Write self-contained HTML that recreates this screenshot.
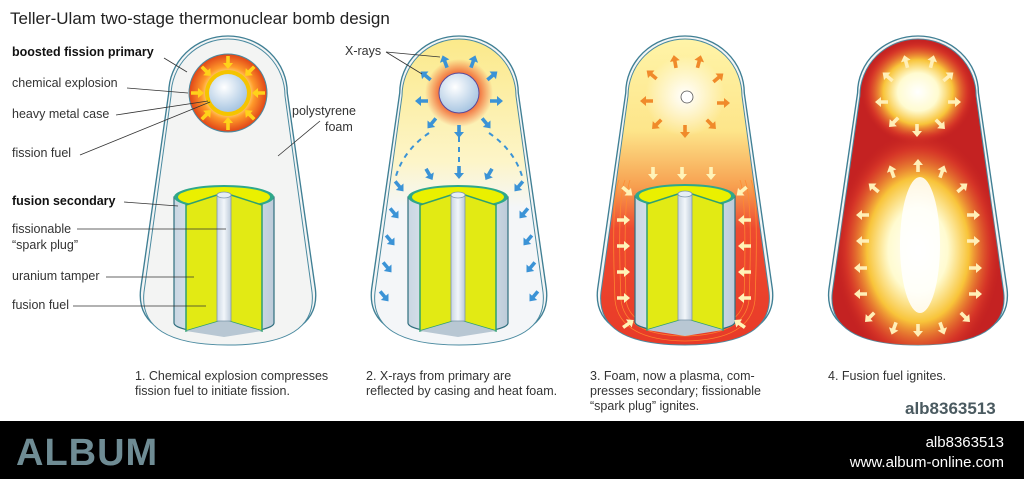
<!DOCTYPE html>
<html><head><meta charset="utf-8"><style>
html,body{margin:0;padding:0;background:#fff}
body{width:1024px;height:479px;overflow:hidden;position:relative;font-family:"Liberation Sans",sans-serif}
svg{position:absolute;left:0;top:0}
</style></head><body>
<svg width="1024" height="479" viewBox="0 0 1024 479" xmlns="http://www.w3.org/2000/svg" font-family="Liberation Sans, sans-serif">
<defs>
<path id="cap" d="M-57,96 A57,57 0 0 1 57,96 L84,292 Q90,345 0,345 Q-90,345 -84,292 Z"/>
<clipPath id="capclip"><path d="M-58,96 A58,58 0 0 1 58,96 L86,292 Q92,345 0,345 Q-92,345 -86,292 Z"/></clipPath>
<polygon id="ar" points="-6,-1.8 1,-1.8 1,-5 7,0 1,5 1,1.8 -6,1.8"/>
<radialGradient id="prim" cx="50%" cy="50%" r="50%"><stop offset="0.45" stop-color="#fff3a0"/><stop offset="0.68" stop-color="#ff9a2a"/><stop offset="1" stop-color="#e04418"/></radialGradient>
<radialGradient id="ball" cx="40%" cy="35%" r="65%"><stop offset="0" stop-color="#ffffff"/><stop offset="1" stop-color="#a9c6e2"/></radialGradient>
<radialGradient id="glow2" cx="50%" cy="50%" r="50%"><stop offset="0.5" stop-color="#f05a28"/><stop offset="1" stop-color="#f05a28" stop-opacity="0"/></radialGradient>
<linearGradient id="c2" x1="0" y1="0" x2="0" y2="1"><stop offset="0" stop-color="#fbe98a"/><stop offset="0.4" stop-color="#fdf5c8"/><stop offset="0.55" stop-color="#f4f6f8"/><stop offset="1" stop-color="#f4f6f8"/></linearGradient>
<linearGradient id="c3" x1="0" y1="0" x2="0" y2="1"><stop offset="0" stop-color="#fff4a8"/><stop offset="0.3" stop-color="#fde58a"/><stop offset="0.48" stop-color="#f7a050"/><stop offset="0.62" stop-color="#ee4a30"/><stop offset="1" stop-color="#e83a28"/></linearGradient>
<radialGradient id="w3" cx="50%" cy="50%" r="50%"><stop offset="0" stop-color="#fff"/><stop offset="1" stop-color="#fff" stop-opacity="0"/></radialGradient>
<radialGradient id="f4" cx="50%" cy="50%" r="50%"><stop offset="0" stop-color="#fff"/><stop offset="0.35" stop-color="#fffbd0"/><stop offset="0.6" stop-color="#f8c43a"/><stop offset="0.85" stop-color="#e0402a" stop-opacity="0.6"/><stop offset="1" stop-color="#c01e1e" stop-opacity="0"/></radialGradient>
<linearGradient id="cyl" x1="0" x2="1"><stop offset="0" stop-color="#c9d6e2"/><stop offset="0.5" stop-color="#f2f6fa"/><stop offset="1" stop-color="#bccbd9"/></linearGradient>
<g id="cylg">
<path d="M-50,0 L-50,126 A50,10 0 0 0 50,126 L50,0 Z" fill="url(#cyl)" stroke="#2f6e7e" stroke-width="1.2"/>
<ellipse cx="0" cy="0" rx="50" ry="12" fill="#2fa88a"/>
<ellipse cx="0" cy="0" rx="46" ry="10" fill="#eaf000"/>
<polygon points="-38,8 -4,-3 4,-3 38,8 38,134 4,124 -4,124 -38,134" fill="#e2ea14" stroke="#2fa070" stroke-width="1.5"/>
<polygon points="-38,134 -4,124 4,124 38,134 0,140" fill="#b8c7d3"/>
<rect x="-7" y="-2" width="14" height="126" fill="url(#cyl)" stroke="#7e97aa" stroke-width="0.8"/>
<ellipse cx="0" cy="-2" rx="7" ry="3" fill="#e6eef5" stroke="#7e97aa" stroke-width="0.8"/>
</g>
</defs>

<text x="10" y="24" font-size="17" fill="#222">Teller-Ulam two-stage thermonuclear bomb design</text>

<!-- Capsule 1 -->
<g transform="translate(228,0)">
<use href="#cap" fill="#f4f5f5" stroke="#3f7f94" stroke-width="1.3" transform="translate(0,-3) scale(1.04,1)"/>
<use href="#cap" fill="#f3f4f3" stroke="#4a8aa0" stroke-width="1"/>
<circle cx="0" cy="93" r="39" fill="url(#prim)"/>
<circle cx="0" cy="93" r="39" fill="none" stroke="#4a8aa0" stroke-width="1"/>
<circle cx="0" cy="93" r="23" fill="#f5c400"/>
<circle cx="0" cy="93" r="19" fill="url(#ball)"/>
<g fill="#ffd21a">
<use href="#ar" transform="translate(0,62) rotate(90)"/><use href="#ar" transform="translate(0,124) rotate(-90)"/>
<use href="#ar" transform="translate(-31,93)"/><use href="#ar" transform="translate(31,93) rotate(180)"/>
<use href="#ar" transform="translate(-22,71) rotate(45)"/><use href="#ar" transform="translate(22,71) rotate(135)"/>
<use href="#ar" transform="translate(-22,115) rotate(-45)"/><use href="#ar" transform="translate(22,115) rotate(-135)"/>
</g>
<use href="#cylg" transform="translate(-4,197)"/>
</g>

<!-- Capsule 2 -->
<g transform="translate(459,0)">
<use href="#cap" fill="#f4f5f5" stroke="#3f7f94" stroke-width="1.3" transform="translate(0,-3) scale(1.04,1)"/>
<use href="#cap" fill="url(#c2)" stroke="#4a8aa0" stroke-width="1"/>
<circle cx="0" cy="93" r="34" fill="url(#glow2)"/>
<circle cx="0" cy="93" r="20" fill="url(#ball)" stroke="#5a4a9a" stroke-width="1"/>
<g fill="#3b93d6">
<use href="#ar" transform="translate(-14,62) rotate(-110)"/><use href="#ar" transform="translate(14,62) rotate(-70)"/>
<use href="#ar" transform="translate(-33,76) rotate(-140)"/><use href="#ar" transform="translate(33,76) rotate(-40)"/>
<use href="#ar" transform="translate(-37,101) rotate(180)"/><use href="#ar" transform="translate(37,101)"/>
<use href="#ar" transform="translate(-27,123) rotate(130)"/><use href="#ar" transform="translate(27,123) rotate(50)"/>
<use href="#ar" transform="translate(0,131) rotate(90)"/>
<use href="#ar" transform="translate(0,172) rotate(90)"/>
<use href="#ar" transform="translate(-30,174) rotate(60)"/><use href="#ar" transform="translate(30,174) rotate(120)"/>
<use href="#ar" transform="translate(-60,186) rotate(50)"/><use href="#ar" transform="translate(60,186) rotate(130)"/>
<use href="#ar" transform="translate(-65,213) rotate(50)"/><use href="#ar" transform="translate(65,213) rotate(130)"/>
<use href="#ar" transform="translate(-69,240) rotate(50)"/><use href="#ar" transform="translate(69,240) rotate(130)"/>
<use href="#ar" transform="translate(-72,267) rotate(50)"/><use href="#ar" transform="translate(72,267) rotate(130)"/>
<use href="#ar" transform="translate(-75,296) rotate(50)"/><use href="#ar" transform="translate(75,296) rotate(130)"/>
</g>
<g stroke="#3b93d6" stroke-width="2" stroke-dasharray="5,5" fill="none">
<line x1="0" y1="137" x2="0" y2="165"/>
<path d="M-30,133 Q-55,150 -63,176"/><path d="M30,133 Q55,150 63,176"/>
</g>
<use href="#cylg" transform="translate(-1,197)"/>
</g>

<!-- Capsule 3 -->
<g transform="translate(685,0)">
<use href="#cap" fill="#f4f5f5" stroke="#3f7f94" stroke-width="1.3" transform="translate(0,-3) scale(1.04,1)"/>
<use href="#cap" fill="url(#c3)" stroke="#4a8aa0" stroke-width="1"/>
<circle cx="0" cy="96" r="40" fill="url(#w3)"/>
<circle cx="2" cy="97" r="6" fill="#fff" stroke="#555" stroke-width="0.8"/>
<g fill="#f08a2a">
<use href="#ar" transform="translate(-10,62) rotate(-100)"/><use href="#ar" transform="translate(14,62) rotate(-75)"/>
<use href="#ar" transform="translate(-33,75) rotate(-140)"/><use href="#ar" transform="translate(33,78) rotate(-40)"/>
<use href="#ar" transform="translate(-38,101) rotate(180)"/><use href="#ar" transform="translate(38,103)"/>
<use href="#ar" transform="translate(-28,124) rotate(135)"/><use href="#ar" transform="translate(26,124) rotate(45)"/>
<use href="#ar" transform="translate(0,131) rotate(90)"/>
</g>
<g stroke="#ff8a30" stroke-width="0.8" fill="none" opacity="0.9">
<path d="M-60,180 Q-68,200 -64,300 Q-60,335 0,336 Q60,335 64,300 Q68,200 60,180"/>
<path d="M-55,180 Q-62,200 -59,300 Q-55,330 0,331 Q55,330 59,300 Q62,200 55,180"/>
<path d="M-66,180 Q-74,200 -70,300 Q-66,340 0,341 Q66,340 70,300 Q74,200 66,180"/>
</g>
<use href="#cylg" transform="translate(0,196)"/>
<g fill="#fff3b8">
<use href="#ar" transform="translate(-32,173) rotate(90)"/><use href="#ar" transform="translate(-3,173) rotate(90)"/><use href="#ar" transform="translate(26,173) rotate(90)"/>
<use href="#ar" transform="translate(-58,191) rotate(40)"/><use href="#ar" transform="translate(57,191) rotate(140)"/>
<use href="#ar" transform="translate(-62,220)"/><use href="#ar" transform="translate(60,220) rotate(180)"/>
<use href="#ar" transform="translate(-62,246)"/><use href="#ar" transform="translate(60,246) rotate(180)"/>
<use href="#ar" transform="translate(-62,272)"/><use href="#ar" transform="translate(60,272) rotate(180)"/>
<use href="#ar" transform="translate(-62,298)"/><use href="#ar" transform="translate(60,298) rotate(180)"/>
<use href="#ar" transform="translate(-57,324) rotate(-35)"/><use href="#ar" transform="translate(55,324) rotate(-145)"/>
</g>
</g>

<!-- Capsule 4 -->
<g transform="translate(918,0)">
<use href="#cap" fill="#f4f5f5" stroke="#3f7f94" stroke-width="1.3" transform="translate(0,-3) scale(1.06,1)"/>
<use href="#cap" fill="#c42222" stroke="#4a8aa0" stroke-width="1" transform="scale(1.02,1)"/>
<g clip-path="url(#capclip)">
<ellipse cx="0" cy="92" rx="58" ry="54" fill="url(#f4)"/>
<ellipse cx="0" cy="250" rx="85" ry="120" fill="url(#f4)"/>
<ellipse cx="2" cy="245" rx="20" ry="68" fill="#fff" opacity="0.85"/>
</g>
<g fill="#ffefb8">
<use href="#ar" transform="translate(-12,62) rotate(-105)"/><use href="#ar" transform="translate(14,62) rotate(-75)"/>
<use href="#ar" transform="translate(-30,77) rotate(-140)"/><use href="#ar" transform="translate(30,77) rotate(-40)"/>
<use href="#ar" transform="translate(-36,102) rotate(180)"/><use href="#ar" transform="translate(36,102)"/>
<use href="#ar" transform="translate(-24,122) rotate(135)"/><use href="#ar" transform="translate(22,124) rotate(45)"/>
<use href="#ar" transform="translate(-1,130) rotate(90)"/>
<use href="#ar" transform="translate(-26,172) rotate(-110)"/><use href="#ar" transform="translate(0,166) rotate(-90)"/><use href="#ar" transform="translate(24,172) rotate(-70)"/>
<use href="#ar" transform="translate(-44,188) rotate(-140)"/><use href="#ar" transform="translate(44,188) rotate(-40)"/>
<use href="#ar" transform="translate(-55,215) rotate(180)"/><use href="#ar" transform="translate(55,215)"/>
<use href="#ar" transform="translate(-55,241) rotate(180)"/><use href="#ar" transform="translate(55,241)"/>
<use href="#ar" transform="translate(-57,268) rotate(180)"/><use href="#ar" transform="translate(57,268)"/>
<use href="#ar" transform="translate(-57,294) rotate(180)"/><use href="#ar" transform="translate(57,294)"/>
<use href="#ar" transform="translate(-48,317) rotate(135)"/><use href="#ar" transform="translate(47,317) rotate(45)"/>
<use href="#ar" transform="translate(-24,328) rotate(110)"/><use href="#ar" transform="translate(0,330) rotate(90)"/><use href="#ar" transform="translate(24,328) rotate(70)"/>
</g>
</g>

<!-- Labels -->
<g font-size="12.5" fill="#333">
<text x="12" y="56" font-weight="bold" fill="#111">boosted fission primary</text>
<text x="12" y="87">chemical explosion</text>
<text x="12" y="118">heavy metal case</text>
<text x="12" y="157">fission fuel</text>
<text x="12" y="205" font-weight="bold" fill="#111">fusion secondary</text>
<text x="12" y="233">fissionable</text>
<text x="12" y="249">“spark plug”</text>
<text x="12" y="280">uranium tamper</text>
<text x="12" y="309">fusion fuel</text>
<text x="292" y="115">polystyrene</text>
<text x="325" y="131">foam</text>
<text x="345" y="55">X-rays</text>
</g>
<g stroke="#333" stroke-width="0.8" fill="none">
<line x1="164" y1="58" x2="187" y2="72"/>
<line x1="127" y1="88" x2="188" y2="93"/>
<line x1="116" y1="115" x2="208" y2="101"/>
<line x1="80" y1="155" x2="210" y2="102"/>
<line x1="124" y1="202" x2="178" y2="206"/>
<line x1="77" y1="229" x2="226" y2="229"/>
<line x1="106" y1="277" x2="194" y2="277"/>
<line x1="73" y1="306" x2="206" y2="306"/>
<line x1="320" y1="121" x2="278" y2="156"/>
<line x1="386" y1="52" x2="440" y2="57"/>
<line x1="386" y1="52" x2="422" y2="74"/>
</g>
<g font-size="12.5" fill="#333">
<text x="135" y="380">1. Chemical explosion compresses</text>
<text x="135" y="395">fission fuel to initiate fission.</text>
<text x="366" y="380">2. X-rays from primary are</text>
<text x="366" y="395">reflected by casing and heat foam.</text>
<text x="590" y="380">3. Foam, now a plasma, com-</text>
<text x="590" y="395">presses secondary; fissionable</text>
<text x="590" y="410">“spark plug” ignites.</text>
<text x="828" y="380">4. Fusion fuel ignites.</text>
</g>
<text x="905" y="414" font-size="17" font-weight="bold" fill="#4a5a60">alb8363513</text>

<rect x="0" y="421" width="1024" height="58" fill="#000"/>
<text x="16" y="465" font-size="38" font-weight="bold" fill="#6f8c94" letter-spacing="1">ALBUM</text>
<text x="1004" y="447" font-size="15" fill="#fff" text-anchor="end">alb8363513</text>
<text x="1004" y="467" font-size="15" fill="#fff" text-anchor="end">www.album-online.com</text>
</svg>
</body></html>
